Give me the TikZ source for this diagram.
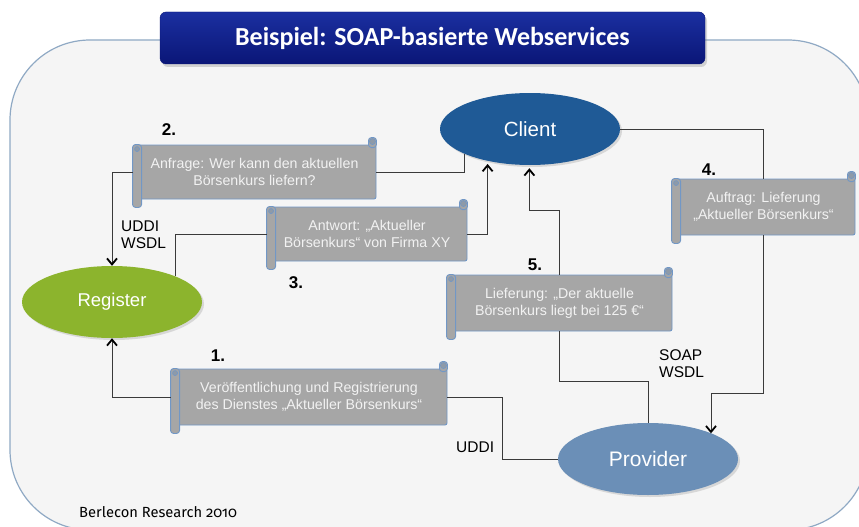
\documentclass[tikz,border=0pt]{standalone}
\usepackage{fontspec}
\setmainfont{Liberation Sans}
\newfontfamily\titlefont{Carlito}
\newfontfamily\footfont[Numbers=OldStyle]{Fira Sans}
\usetikzlibrary{arrows.meta,shapes.geometric,shadows}
\definecolor{bgfill}{HTML}{F5F5F5}
\definecolor{bgborder}{HTML}{8FA9C4}
\definecolor{titletop}{HTML}{1B2FA0}
\definecolor{titlebot}{HTML}{0A1677}
\definecolor{clientblue}{HTML}{1F5A96}
\definecolor{registergreen}{HTML}{8CB42D}
\definecolor{providerblue}{HTML}{6B8FB7}
\definecolor{scrollgray}{HTML}{A6A6A6}
\definecolor{scrollborder}{HTML}{7197C6}
\definecolor{rolldark}{HTML}{8E9AA8}
\definecolor{scrolltext}{HTML}{F2F2F2}
\definecolor{linegray}{HTML}{3A3A3A}
\tikzset{
  scrollbody/.style={draw=scrollborder, fill=scrollgray, line width=0.9pt, rounded corners=2pt,
    text=scrolltext, font=\fontsize{14.2}{17}\selectfont, align=center, inner sep=0pt},
  rollpart/.style={draw=scrollborder, fill=scrollgray, line width=0.9pt, rounded corners=3pt},
  rolldot/.style={draw=scrollborder, fill=rolldark, line width=0.6pt},
  oval/.style={ellipse, inner sep=0pt, text=white, minimum width=180pt, minimum height=72pt,
    drop shadow={opacity=0.25, shadow xshift=2pt, shadow yshift=-2pt}},
  conn/.style={draw=linegray, line width=0.8pt},
  arr/.style={conn, -{Straight Barb[length=6pt,width=10pt,line width=1.8pt,color=black]}},
  stepnum/.style={font=\bfseries\fontsize{17}{19}\selectfont, text=black, inner sep=0pt},
  proto/.style={font=\fontsize{15.5}{17}\selectfont, text=black, align=left, inner sep=0pt, anchor=west},
}
\newcommand\addrolls[1]{%
  \path[rollpart] (#1.north west) rectangle ([xshift=9pt,yshift=-8pt]#1.south west);
  \path[rolldot] ([xshift=4.5pt,yshift=-4.5pt]#1.north west) circle[radius=2.5pt];
  \path[rollpart] ([xshift=-8pt,yshift=7pt]#1.north east) rectangle ([yshift=-3pt]#1.north east);
  \path[rolldot] ([xshift=-4pt,yshift=3pt]#1.north east) circle[radius=3pt];
}
\begin{document}
\begin{tikzpicture}[x=1pt,y=-1pt]
\useasboundingbox (0,0) rectangle (859,527);
\clip (0,0) rectangle (859,527);
\fill[white] (0,0) rectangle (859,527);
% background panel
\draw[fill=bgfill, draw=bgborder, line width=1.2pt, rounded corners=80pt] (10,40) rectangle (868,530);
% title
\node[draw=titlebot, top color=titletop, bottom color=titlebot, rounded corners=6pt,
  minimum width=545pt, minimum height=52pt, inner sep=0pt, text=white,
  font=\titlefont\bfseries\fontsize{26}{30}\selectfont,
  drop shadow={opacity=0.3, shadow xshift=2pt, shadow yshift=-3pt}] (title) at (432.5,38)
  {Beispiel: SOAP-basierte Webservices};
% ellipses
\node[oval, fill=clientblue, font=\fontsize{20.5}{22}\selectfont] (client) at (530,129) {Client};
\node[oval, fill=registergreen, font=\fontsize{18.5}{22}\selectfont] (reg) at (112,302) {Register};
\node[oval, fill=providerblue, font=\fontsize{21}{24}\selectfont] (prov) at (648,459) {Provider};
% scrolls
\node[scrollbody, minimum width=243pt, minimum height=54pt] (s2) at (254.5,172) {Anfrage: Wer kann den aktuellen\\Börsenkurs liefern?};
\addrolls{s2}
\node[scrollbody, minimum width=200pt, minimum height=54pt] (s3) at (367,234) {Antwort: „Aktueller\\Börsenkurs“ von Firma XY};
\addrolls{s3}
\node[scrollbody, minimum width=183pt, minimum height=56pt] (s4) at (763.5,207) {Auftrag: Lieferung\\„Aktueller Börsenkurs“};
\addrolls{s4}
\node[scrollbody, minimum width=225pt, minimum height=56pt] (s5) at (559.5,303) {Lieferung: „Der aktuelle\\Börsenkurs liegt bei 125 €“};
\addrolls{s5}
\node[scrollbody, minimum width=276pt, minimum height=56pt] (s1) at (309,397) {Veröffentlichung und Registrierung\\des Dienstes „Aktueller Börsenkurs“};
\addrolls{s1}
% helper coordinates
\coordinate (k5) at (559,381);
\coordinate (k6) at (559,210);
\coordinate (k4) at (711,393);
\coordinate (k1) at (502,459);
% connectors
\draw[conn] (client.201) |- (s2.east);
\draw[arr] (s2.west) -| (reg.north);
\draw[conn] (reg.22) |- (s3.west);
\draw[arr, shorten >=3pt] (s3.east) -| (client.217);
\draw[conn] (prov.north) |- (k5) -- (k5 |- s5.south);
\draw[arr, shorten >=3pt] (k5 |- s5.north) -- (k6) -| (client.269);
\draw[conn] (client.east) -| (s4.north);
\draw[arr] (s4.south) |- (k4) -- (k4 |- prov.22);
\draw[arr] (s1.west) -| (reg.south);
\draw[conn] (s1.east) -| (k1) -- (prov.west);
% step numbers
\node[stepnum] (n2) at (169,130) {2.};
\node[stepnum] (n3) at (296,283) {3.};
\node[stepnum] (n4) at (709,170) {4.};
\node[stepnum] (n5) at (535,265) {5.};
\node[stepnum] (n1) at (218,356) {1.};
% protocol labels
\node[proto] (p1) at (121,235) {UDDI\\WSDL};
\node[proto] (p2) at (659,364) {SOAP\\WSDL};
\node[proto] (p3) at (456,447) {UDDI};
% footer
\node[anchor=west, inner sep=0pt, font=\footfont\fontsize{14.7}{16}\selectfont] (foot) at (79,512) {Berlecon Research 2010};
\end{tikzpicture}
\end{document}
